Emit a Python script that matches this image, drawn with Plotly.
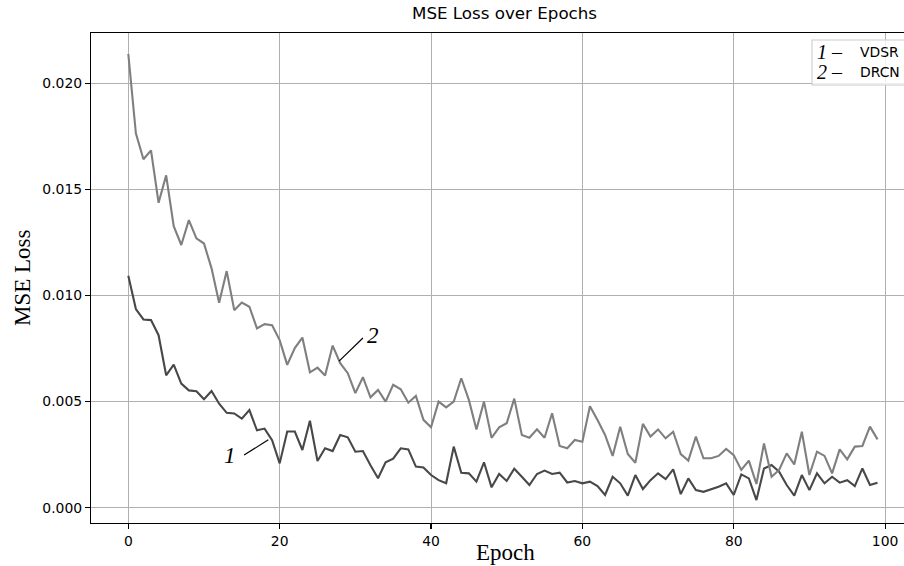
import plotly.graph_objects as go

epochs = list(range(100))

vdsr_loss = [
    0.01093, 0.00936, 0.00887, 0.00884, 0.00813, 0.00624, 0.00674, 0.00585, 0.00553, 0.00549,
    0.00511, 0.00550, 0.00490, 0.00447, 0.00444, 0.00420, 0.00460, 0.00365, 0.00373, 0.00318,
    0.00209, 0.00359, 0.00359, 0.00272, 0.00410, 0.00220, 0.00280, 0.00267, 0.00343, 0.00332,
    0.00264, 0.00267, 0.00200, 0.00139, 0.00214, 0.00231, 0.00280, 0.00275, 0.00194, 0.00190,
    0.00154, 0.00130, 0.00115, 0.00288, 0.00165, 0.00162, 0.00123, 0.00214, 0.00096, 0.00159,
    0.00126, 0.00184, 0.00146, 0.00107, 0.00159, 0.00175, 0.00159, 0.00165, 0.00119, 0.00126,
    0.00115, 0.00123, 0.00102, 0.00060, 0.00146, 0.00115, 0.00057, 0.00154, 0.00088, 0.00130,
    0.00162, 0.00135, 0.00181, 0.00064, 0.00138, 0.00083, 0.00075, 0.00086, 0.00099, 0.00115,
    0.00060, 0.00157, 0.00138, 0.00036, 0.00185, 0.00201, 0.00170, 0.00107, 0.00057, 0.00154,
    0.00083, 0.00162, 0.00115, 0.00146, 0.00118, 0.00130, 0.00102, 0.00185, 0.00107, 0.00118,
]

drcn_loss = [
    0.02138, 0.01764, 0.01642, 0.01684, 0.01437, 0.01566, 0.01327, 0.01238, 0.01355, 0.01269,
    0.01245, 0.01128, 0.00966, 0.01115, 0.00931, 0.00967, 0.00947, 0.00845, 0.00865, 0.00860,
    0.00790, 0.00673, 0.00752, 0.00802, 0.00638, 0.00660, 0.00623, 0.00764, 0.00681, 0.00634,
    0.00540, 0.00615, 0.00520, 0.00555, 0.00500, 0.00579, 0.00558, 0.00495, 0.00527, 0.00414,
    0.00379, 0.00500, 0.00473, 0.00500, 0.00610, 0.00508, 0.00369, 0.00500, 0.00329, 0.00379,
    0.00398, 0.00514, 0.00343, 0.00330, 0.00369, 0.00330, 0.00445, 0.00291, 0.00280, 0.00319,
    0.00311, 0.00478, 0.00413, 0.00343, 0.00244, 0.00382, 0.00253, 0.00212, 0.00395, 0.00335,
    0.00369, 0.00327, 0.00358, 0.00253, 0.00222, 0.00335, 0.00233, 0.00233, 0.00244, 0.00277,
    0.00248, 0.00178, 0.00222, 0.00112, 0.00303, 0.00146, 0.00178, 0.00256, 0.00204, 0.00358,
    0.00154, 0.00264, 0.00244, 0.00162, 0.00275, 0.00228, 0.00288, 0.00291, 0.00382, 0.00322,
]

x_ticks = [0, 20, 40, 60, 80, 100]
y_ticks = [0.000, 0.005, 0.010, 0.015, 0.020]
y_tick_labels = ["0.000", "0.005", "0.010", "0.015", "0.020"]

title_text = "MSE Loss over Epochs"
x_label = "Epoch"
y_label = "MSE Loss"
series_names = ["VDSR", "DRCN"]

fig = go.Figure()
fig.add_trace(go.Scatter(x=epochs, y=vdsr_loss, mode="lines", name=series_names[0],
                         line=dict(color="#484848", width=2.1)))
fig.add_trace(go.Scatter(x=epochs, y=drcn_loss, mode="lines", name=series_names[1],
                         line=dict(color="#7f7f7f", width=2.1)))

# the body margin is removed in post_script, so figure coords = page coords
W, H = 904, 566
L, T = 91, 33
PB = 523
B = H - PB
R = 0
pw = W - L - R
ph = H - T - B

def px(X):
    return (X - L) / pw

def py(Y):
    return (PB - Y) / ph

common = dict(
    showline=True, linecolor="black", linewidth=1.1,
    showgrid=True, gridcolor="#b0b0b0", gridwidth=1,
    ticks="outside", ticklen=5, tickwidth=1.1, tickcolor="black",
    tickfont=dict(family="DejaVu Sans", size=13.9, color="black"),
    zeroline=False,
)

fig.update_layout(
    width=W, height=H,
    margin=dict(l=L, r=R, t=T, b=B, pad=0),
    paper_bgcolor="white", plot_bgcolor="white",
    showlegend=False,
    xaxis=dict(range=[-4.93, 102.5], tickvals=x_ticks, ticktext=[str(v) for v in x_ticks],
               mirror=True, **common),
    yaxis=dict(range=[-0.00072, 0.02237], tickvals=y_ticks, ticktext=y_tick_labels,
               mirror=False, **common),
)

annotations = [
    dict(text=title_text, xref="paper", yref="paper", x=px(504), y=py(13),
         xanchor="center", yanchor="middle", showarrow=False,
         font=dict(family="DejaVu Sans", size=16.7, color="black")),
    dict(text=x_label, xref="paper", yref="paper", x=px(505), y=py(552),
         xanchor="center", yanchor="middle", showarrow=False,
         font=dict(family="Liberation Serif", size=23, color="black")),
    dict(text=y_label, xref="paper", yref="paper", x=px(22), y=py(278),
         xanchor="center", yanchor="middle", showarrow=False, textangle=-90,
         font=dict(family="Liberation Serif", size=23, color="black")),
    dict(text="<i>1</i>", xref="x", yref="y", x=13.4, y=0.00245,
         xanchor="center", yanchor="middle", showarrow=False,
         font=dict(family="Liberation Serif", size=23, color="black")),
    dict(text="<i>2</i>", xref="x", yref="y", x=32.3, y=0.00810,
         xanchor="center", yanchor="middle", showarrow=False,
         font=dict(family="Liberation Serif", size=23, color="black")),
    dict(text="<i>1</i> –", xref="paper", yref="paper", x=px(815), y=py(52),
         xanchor="left", yanchor="middle", showarrow=False,
         font=dict(family="Liberation Serif", size=20, color="black")),
    dict(text=series_names[0], xref="paper", yref="paper", x=px(858), y=py(52),
         xanchor="left", yanchor="middle", showarrow=False,
         font=dict(family="DejaVu Sans", size=13.9, color="black")),
    dict(text="<i>2</i> –", xref="paper", yref="paper", x=px(815), y=py(72),
         xanchor="left", yanchor="middle", showarrow=False,
         font=dict(family="Liberation Serif", size=20, color="black")),
    dict(text=series_names[1], xref="paper", yref="paper", x=px(858), y=py(72),
         xanchor="left", yanchor="middle", showarrow=False,
         font=dict(family="DejaVu Sans", size=13.9, color="black")),
]
fig.update_layout(annotations=annotations)

shapes = [
    dict(type="line", xref="x", yref="y", x0=15.3, y0=0.00248, x1=18.5, y1=0.00320,
         line=dict(color="black", width=1.2)),
    dict(type="line", xref="x", yref="y", x0=27.85, y0=0.00691, x1=31.0, y1=0.00800,
         line=dict(color="black", width=1.2)),
    dict(type="rect", xref="paper", yref="paper", x0=px(812), y0=py(85), x1=px(925), y1=py(40),
         line=dict(color="#cccccc", width=1.1), fillcolor="rgba(255,255,255,0.8)", layer="above"),
]
fig.update_layout(shapes=shapes)

fig.write_html(
    "out.html",
    config={"displayModeBar": False, "staticPlot": True},
    post_script="document.body.style.margin='0px';document.body.style.overflow='hidden';",
)
